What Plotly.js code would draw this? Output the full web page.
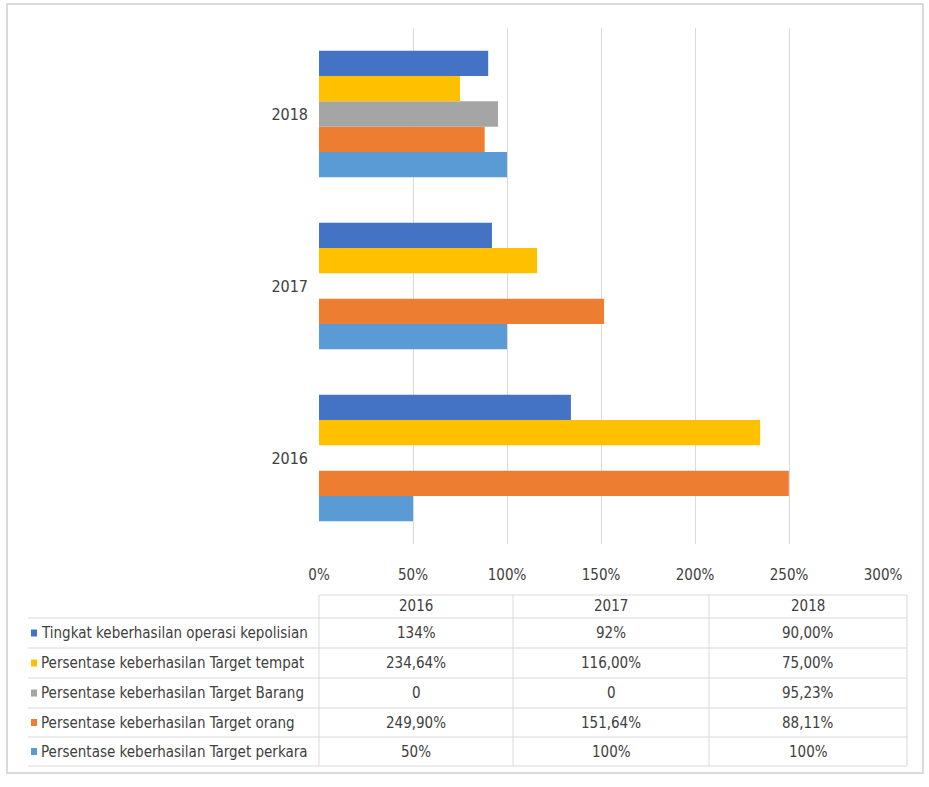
<!DOCTYPE html>
<html>
<head>
<meta charset="utf-8">
<script src="https://cdn.plot.ly/plotly-3.0.1.min.js"></script>
<style>html,body{margin:0;padding:0;background:#fff;}#chart{width:929px;height:787px;}</style>
</head>
<body>
<div id="chart"></div>
<script>
const years = ['2016', '2017', '2018'];
const seriesNames = [
  'Tingkat keberhasilan operasi kepolisian',
  'Persentase keberhasilan Target tempat',
  'Persentase keberhasilan Target Barang',
  'Persentase keberhasilan Target orang',
  'Persentase keberhasilan Target perkara'
];
const tingkat = [1.34, 0.92, 0.90];
const tempat = [2.3464, 1.16, 0.75];
const barang = [0, 0, 0.9523];
const orang = [2.499, 1.5164, 0.8811];
const perkara = [0.5, 1.0, 1.0];
const tingkatText = ['134%', '92%', '90,00%'];
const tempatText = ['234,64%', '116,00%', '75,00%'];
const barangText = ['0', '0', '95,23%'];
const orangText = ['249,90%', '151,64%', '88,11%'];
const perkaraText = ['50%', '100%', '100%'];
const xTickVals = [0, 0.5, 1, 1.5, 2, 2.5, 3];
const xTickText = ['0%', '50%', '100%', '150%', '200%', '250%', '300%'];

const colors = ['#4472C4', '#FFC000', '#A5A5A5', '#ED7D31', '#5B9BD5'];
const seriesVals = [tingkat, tempat, barang, orang, perkara];
const seriesText = [tingkatText, tempatText, barangText, orangText, perkaraText];

const FONT = '"Liberation Sans Narrow", "DejaVu Sans Condensed", "Arial Narrow", sans-serif';

// plot area geometry in pixels
const W = 929, H = 787;
const L = 319, R = 883, T = 28, B = 544;
const px = p => (p - L) / (R - L);
const py = p => (B - p) / (B - T);

// traces: bottom-to-top within group -> reverse order
const traces = [];
for (let i = seriesNames.length - 1; i >= 0; i--) {
  traces.push({
    type: 'bar',
    orientation: 'h',
    name: seriesNames[i],
    y: years,
    x: seriesVals[i],
    marker: {color: colors[i]},
    hoverinfo: 'x+y+name'
  });
}

const shapes = [];
const annotations = [];
const gridCol = '#d9d9d9';

// outer frame
shapes.push({type: 'rect', xref: 'paper', yref: 'paper', x0: px(7), x1: px(923), y0: py(4), y1: py(773), line: {color: '#d0d0d0', width: 1.5}, layer: 'below'});

// table geometry
const colEdges = [319, 513, 709, 907];
const headerTop = 595;
const rowLines = [618, 648, 678, 708, 737, 766];
const headerY = 606;
const tableLeft = 28;

shapes.push({type: 'line', xref: 'paper', yref: 'paper', x0: px(colEdges[0]), x1: px(colEdges[3]), y0: py(headerTop), y1: py(headerTop), line: {color: gridCol, width: 1}});
rowLines.forEach(yv => {
  shapes.push({type: 'line', xref: 'paper', yref: 'paper', x0: px(tableLeft), x1: px(colEdges[3]), y0: py(yv), y1: py(yv), line: {color: gridCol, width: 1}});
});
colEdges.forEach(xv => {
  shapes.push({type: 'line', xref: 'paper', yref: 'paper', x0: px(xv), x1: px(xv), y0: py(headerTop), y1: py(rowLines[rowLines.length - 1]), line: {color: gridCol, width: 1}});
});

// header
years.forEach((yr, j) => {
  annotations.push({xref: 'paper', yref: 'paper', x: px((colEdges[j] + colEdges[j + 1]) / 2), y: py(headerY), text: yr, showarrow: false, xanchor: 'center', yanchor: 'middle', font: {family: FONT, size: 15, color: '#404040'}});
});

// rows
seriesNames.forEach((name, i) => {
  const cy = (rowLines[i] + rowLines[i + 1]) / 2;
  shapes.push({type: 'rect', xref: 'paper', yref: 'paper', x0: px(31), x1: px(37), y0: py(cy - 3.5), y1: py(cy + 3.5), fillcolor: colors[i], line: {width: 0}});
  annotations.push({xref: 'paper', yref: 'paper', x: px(39), y: py(cy), text: name, showarrow: false, xanchor: 'left', yanchor: 'middle', font: {family: FONT, size: 15, color: '#404040'}});
  years.forEach((yr, j) => {
    annotations.push({xref: 'paper', yref: 'paper', x: px((colEdges[j] + colEdges[j + 1]) / 2), y: py(cy), text: seriesText[i][j], showarrow: false, xanchor: 'center', yanchor: 'middle', font: {family: FONT, size: 15, color: '#404040'}});
  });
});

const layout = {
  width: W, height: H,
  margin: {l: L, r: W - R, t: T, b: H - B, pad: 0},
  paper_bgcolor: '#ffffff',
  plot_bgcolor: '#ffffff',
  barmode: 'group',
  bargap: 0.265,
  bargroupgap: 0,
  showlegend: false,
  font: {family: FONT, size: 15, color: '#404040'},
  xaxis: {
    range: [0, 3],
    tickvals: xTickVals,
    ticktext: xTickText,
    showgrid: true,
    gridcolor: gridCol,
    gridwidth: 1,
    zeroline: false,
    showline: false,
    ticks: '',
    ticklabelstandoff: 20,
    tickfont: {family: FONT, size: 15, color: '#404040'},
    fixedrange: true
  },
  yaxis: {
    type: 'category',
    categoryorder: 'array',
    categoryarray: years,
    showgrid: false,
    zeroline: false,
    showline: false,
    ticks: '',
    ticklabelstandoff: 10,
    tickfont: {family: FONT, size: 16, color: '#404040'},
    fixedrange: true
  },
  shapes: shapes,
  annotations: annotations
};

Plotly.newPlot('chart', traces, layout, {displayModeBar: false, staticPlot: false});
</script>
</body>
</html>
